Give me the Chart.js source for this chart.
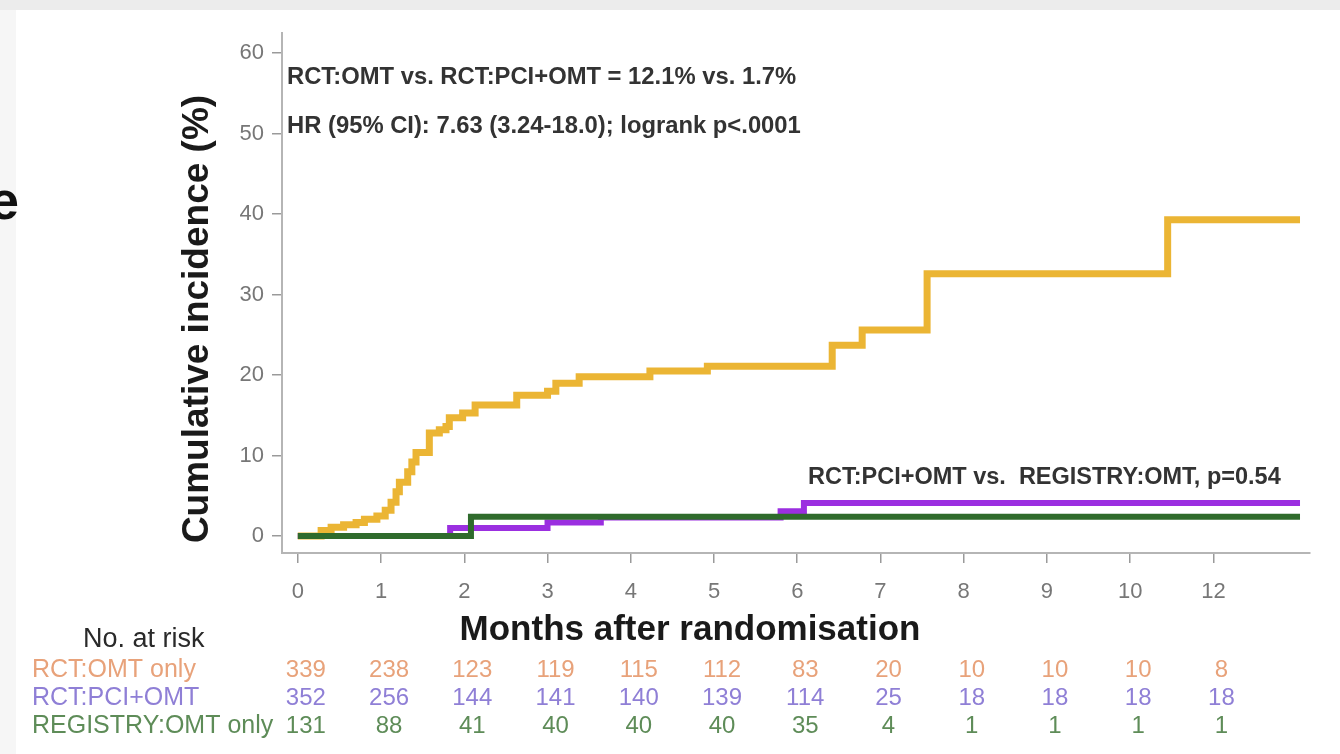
<!DOCTYPE html>
<html>
<head>
<meta charset="utf-8">
<script src="https://cdn.jsdelivr.net/npm/chart.js@4.4.1/dist/chart.umd.min.js"></script>
<style>
  html, body { margin: 0; padding: 0; background: #efefef; }
  #wrap { position: relative; width: 1340px; height: 754px; }
  canvas { display: block; }
</style>
</head>
<body>
<div id="wrap"><canvas id="km" width="1340" height="754"></canvas></div>
<script>
// Tick labels along the month axis (the last position is labelled 12)
const tickLabels = ['0', '1', '2', '3', '4', '5', '6', '7', '8', '9', '10', '12'];
const yTicks = [0, 10, 20, 30, 40, 50, 60];

// Cumulative incidence (%) step curves: time (axis position) and value
const omtTime = [0, 0.28, 0.40, 0.55, 0.70, 0.80, 0.95, 1.05, 1.12, 1.18, 1.22, 1.32, 1.37, 1.42, 1.58, 1.70, 1.78, 1.82, 1.98, 2.13, 2.63, 3.00, 3.10, 3.38, 4.23, 4.92, 6.42, 6.78, 7.56, 10.45, 12.04];
const omtRate = [0, 0.7, 1.1, 1.4, 1.7, 2.1, 2.5, 3.2, 4.2, 5.5, 6.7, 8.0, 9.2, 10.4, 12.8, 13.2, 13.6, 14.7, 15.3, 16.3, 17.5, 18.0, 19.0, 19.8, 20.5, 21.1, 23.7, 25.6, 32.6, 39.3, 39.3];

const pciTime = [0, 1.83, 3.00, 3.64, 5.80, 6.08, 12.04];
const pciRate = [0, 1.0, 1.7, 2.3, 3.1, 4.1, 4.1];

const regTime = [0, 2.08, 12.04];
const regRate = [0, 2.4, 2.4];

// Numbers at risk under each tick position
const riskGroups = ['RCT:OMT only', 'RCT:PCI+OMT', 'REGISTRY:OMT only'];
const omtRisk = [339, 238, 123, 119, 115, 112, 83, 20, 10, 10, 10, 8];
const pciRisk = [352, 256, 144, 141, 140, 139, 114, 25, 18, 18, 18, 18];
const regRisk = [131, 88, 41, 40, 40, 40, 35, 4, 1, 1, 1, 1];

const COL_OMT = '#ebb534';
const COL_PCI = '#9b2fe0';
const COL_REG = '#2f6b2c';
const riskColors = ['#e8a27a', '#8f7fd6', '#5e8c58'];
const riskRows = [omtRisk, pciRisk, regRisk];

const toPoints = (xs, ys) => xs.map((x, i) => ({ x: x, y: ys[i] }));

const FONT = "'Liberation Sans', Arial, Helvetica, sans-serif";

const decor = {
  id: 'decor',
  beforeDraw(chart) {
    const ctx = chart.ctx;
    ctx.save();
    ctx.fillStyle = '#ececec';
    ctx.fillRect(0, 0, chart.width, chart.height);
    ctx.fillStyle = '#f6f6f6';
    ctx.fillRect(0, 10, 16, chart.height - 10);
    ctx.fillStyle = '#ffffff';
    ctx.fillRect(16, 10, chart.width - 16, chart.height - 10);
    ctx.restore();
  },
  afterDraw(chart) {
    const ctx = chart.ctx;
    const xs = chart.scales.x;
    ctx.save();

    // fragment of a heading on the left edge
    ctx.fillStyle = '#111';
    ctx.font = 'bold 54px ' + FONT;
    ctx.textAlign = 'right';
    ctx.textBaseline = 'alphabetic';
    ctx.fillText('e', 19, 219);

    // axis titles
    ctx.fillStyle = '#1a1a1a';
    ctx.font = 'bold 35px ' + FONT;
    ctx.textAlign = 'center';
    ctx.textBaseline = 'middle';
    ctx.fillText('Months after randomisation', 690, 630);

    ctx.save();
    ctx.translate(198, 319);
    ctx.rotate(-Math.PI / 2);
    ctx.font = 'bold 37px ' + FONT;
    ctx.fillText('Cumulative incidence (%)', 0, 0);
    ctx.restore();

    // statistics
    ctx.fillStyle = '#333';
    ctx.font = 'bold 23.8px ' + FONT;
    ctx.textAlign = 'left';
    ctx.fillText('RCT:OMT vs. RCT:PCI+OMT = 12.1% vs. 1.7%', 287, 77);
    ctx.fillText('HR (95% CI): 7.63 (3.24-18.0); logrank p<.0001', 287, 126);
    ctx.font = 'bold 23.5px ' + FONT;
    ctx.fillText('RCT:PCI+OMT vs.  REGISTRY:OMT, p=0.54', 808, 478);

    // numbers at risk
    ctx.font = '27px ' + FONT;
    ctx.fillStyle = '#2a2a2a';
    ctx.textAlign = 'left';
    ctx.fillText('No. at risk', 83, 640);
    const rowY = [670, 698, 726];
    riskRows.forEach((row, r) => {
      ctx.fillStyle = riskColors[r];
      ctx.font = '25px ' + FONT;
      ctx.textAlign = 'left';
      ctx.fillText(riskGroups[r], 32, rowY[r]);
      ctx.font = '24px ' + FONT;
      ctx.textAlign = 'center';
      row.forEach((n, i) => {
        ctx.fillText(String(n), xs.getPixelForValue(i) + 8, rowY[r]);
      });
    });
    ctx.restore();
  }
};

new Chart(document.getElementById('km'), {
  type: 'line',
  data: {
    datasets: [
      { label: 'REGISTRY:OMT only', data: toPoints(regTime, regRate), borderColor: COL_REG, order: 0 },
      { label: 'RCT:PCI+OMT', data: toPoints(pciTime, pciRate), borderColor: COL_PCI, order: 1 },
      { label: 'RCT:OMT only', data: toPoints(omtTime, omtRate), borderColor: COL_OMT, order: 2, borderWidth: 7 }
    ]
  },
  options: {
    responsive: false,
    devicePixelRatio: 1,
    animation: false,
    datasets: {
      line: {
        stepped: true,
        borderWidth: 6,
        pointRadius: 0,
        fill: false,
        borderCapStyle: 'butt',
        borderJoinStyle: 'miter'
      }
    },
    layout: { padding: { left: 0, top: 33, right: 30, bottom: 0 } },
    plugins: { legend: { display: false }, tooltip: { enabled: false } },
    scales: {
      x: {
        type: 'linear',
        min: -0.19,
        max: 12.16,
        afterFit(scale) { scale.height = 201; },
        afterBuildTicks(scale) { scale.ticks = tickLabels.map((_, i) => ({ value: i })); },
        ticks: {
          autoSkip: false,
          maxRotation: 0,
          padding: 16,
          color: '#777',
          font: { family: FONT, size: 22 },
          callback: (v) => tickLabels[v]
        },
        grid: { drawOnChartArea: false, drawTicks: true, tickLength: 10, color: '#9a9a9a', lineWidth: 1.5 },
        border: { display: true, color: '#b5b5b5', width: 2 }
      },
      y: {
        type: 'linear',
        min: -2.1,
        max: 62.5,
        afterFit(scale) { scale.width = 282; },
        afterBuildTicks(scale) { scale.ticks = yTicks.map(v => ({ value: v })); },
        ticks: {
          padding: 8,
          color: '#777',
          font: { family: FONT, size: 22 }
        },
        grid: { drawOnChartArea: false, drawTicks: true, tickLength: 10, color: '#9a9a9a', lineWidth: 1.5 },
        border: { display: true, color: '#b5b5b5', width: 2 }
      }
    }
  },
  plugins: [decor]
});
</script>
</body>
</html>
